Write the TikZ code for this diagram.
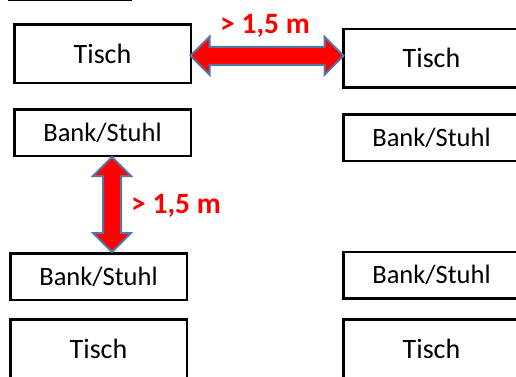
\documentclass[tikz,border=0pt]{standalone}
\usepackage{fontspec}
\setmainfont{Carlito}
\usetikzlibrary{positioning,calc,shapes.arrows}
\definecolor{pfeilrand}{RGB}{80,120,170}
\tikzset{
  kasten/.style={draw,line width=2.5pt,minimum width=176.5pt,inner sep=0pt},
  tisch/.style={kasten,minimum height=58.5pt,font=\fontsize{28}{32}\selectfont},
  bank/.style={kasten,minimum height=46.5pt,font=\fontsize{26.5}{30}\selectfont},
  abstand/.style={double arrow,draw=pfeilrand,fill=red,line width=2pt,
    double arrow head extend=10pt,double arrow tip angle=90,inner sep=8pt},
  masz/.style={text=red,font=\bfseries\fontsize{29.5}{34}\selectfont,inner sep=0pt}
}
\begin{document}
\begin{tikzpicture}[x=1pt,y=-1pt]
\useasboundingbox (0,0) rectangle (516,376);
\clip (0,0) rectangle (516,376);
\draw[line width=1.3pt] (8,0.7) -- (132,0.7);
% linke Reihe
\node[tisch] (tischA) at (102.5,53.5) {Tisch};
\node[bank] (bankA) at (102.5,132.5) {Bank/Stuhl};
\node[bank] (bankC) at (98.5,276.5) {Bank/Stuhl};
\node[tisch] (tischC) at (98.5,348.5) {Tisch};
% rechte Reihe
\node[tisch] (tischB) at (431.5,58) {Tisch};
\node[bank] (bankB) at (431.5,137.5) {Bank/Stuhl};
\node[bank] (bankD) at (431.5,275) {Bank/Stuhl};
\node[tisch] (tischD) at (431.5,348.5) {Tisch};
% Abstaende
\node[abstand,minimum height=153pt] (pfeilH) at ($(tischA.east)!0.5!(tischB.west)$) {};
\node[abstand,rotate=90,minimum height=95pt] (pfeilV) at ($(bankA.south)!0.5!(bankC.north)+(11.5,0)$) {};
\node[masz,anchor=base] (maszH) at ($(pfeilH.center)+(-2,-22)$) {> 1,5 m};
\node[masz,anchor=base west] (maszV) at ($(pfeilV.center)+(19,8.5)$) {> 1,5 m};
\end{tikzpicture}
\end{document}
